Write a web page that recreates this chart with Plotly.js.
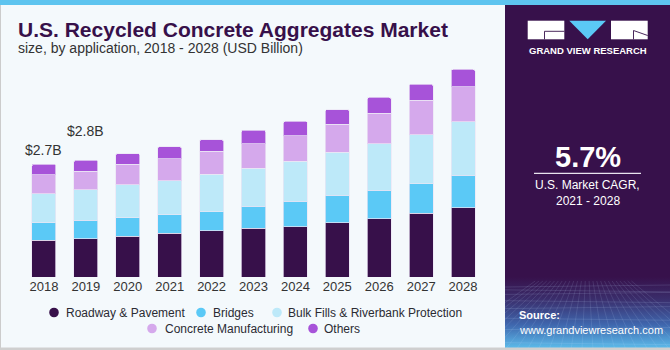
<!DOCTYPE html>
<html>
<head>
<meta charset="utf-8">
<script src="https://cdn.plot.ly/plotly-3.0.1.min.js"></script>
<style>html,body{margin:0;padding:0;background:#f4f9fc;}#chart{width:670px;height:350px;}</style>
</head>
<body>
<div id="chart"></div>
<script>
// ---- data (USD Billion) ----
const years = ['2018','2019','2020','2021','2022','2023','2024','2025','2026','2027','2028'];
const roadway  = [0.88,0.91,0.97,1.05,1.11,1.16,1.20,1.30,1.39,1.52,1.66];
const bridges  = [0.42,0.45,0.45,0.44,0.45,0.53,0.61,0.65,0.68,0.71,0.77];
const bulkFills = [0.69,0.72,0.78,0.81,0.89,0.91,0.95,1.03,1.12,1.17,1.28];
const concreteMfg = [0.45,0.45,0.50,0.52,0.55,0.59,0.61,0.67,0.72,0.82,0.84];
const others   = [0.26,0.26,0.25,0.29,0.28,0.32,0.35,0.35,0.38,0.39,0.41];
const seriesNames = ['Roadway & Pavement','Bridges','Bulk Fills & Riverbank Protection','Concrete Manufacturing','Others'];
const totalLabels = ['$2.7B','$2.8B'];
const cagrText = '5.7%';

// ---- styling ----
const colors = ['#37104a','#5bc9f6','#bde9f9','#d5a9ec','#a753d9'];
const series = [roadway, bridges, bulkFills, concreteMfg, others];
const L = 23, R = 484, T = 60, B = 277, W = 670, H = 350;
const xp = px => (px - L) / (R - L);
const yp = py => (B - py) / (B - T);
const PXPERB = 41.85;

const traces = series.map((vals, i) => ({
  type: 'bar', x: years, y: vals, name: seriesNames[i],
  marker: {color: colors[i], line: {color: 'rgba(235,230,245,0.7)', width: 1}},
  showlegend: false, hoverinfo: 'skip'
}));

const totals = years.map((_, j) => series.reduce((s, a) => s + a[j], 0));
const annotations = [];
const shiftPx = [14, 29];
totalLabels.forEach((t, j) => {
  annotations.push({x: j, y: totals[j], xref: 'x', yref: 'y', text: t, showarrow: false,
    yanchor: 'middle', yshift: shiftPx[j], font: {family: 'Liberation Sans, Arial', size: 14, color: '#333333'}});
});

// titles
annotations.push({xref: 'paper', yref: 'paper', x: xp(16), y: yp(29), xanchor: 'left', yanchor: 'middle', showarrow: false,
  text: 'U.S. Recycled Concrete Aggregates Market', font: {family: 'Liberation Sans, Arial', size: 21, weight: 700, color: '#37104a'}});
annotations.push({xref: 'paper', yref: 'paper', x: xp(16), y: yp(48), xanchor: 'left', yanchor: 'middle', showarrow: false,
  text: 'size, by application, 2018 - 2028 (USD Billion)', font: {family: 'Liberation Sans, Arial', size: 14, color: '#333333'}});

// manual legend
const legendPos = [
  {cx: 54, tx: 64, y: 312.5}, {cx: 201, tx: 211, y: 312.5}, {cx: 277, tx: 285.5, y: 312.5},
  {cx: 152, tx: 162.5, y: 328.5}, {cx: 313, tx: 322, y: 328.5}
];
const shapes = [];
seriesNames.forEach((n, i) => {
  const p = legendPos[i];
  shapes.push({type: 'circle', xref: 'paper', yref: 'paper', xsizemode: 'pixel', ysizemode: 'pixel',
    xanchor: xp(p.cx), yanchor: yp(p.y), x0: -4.8, x1: 4.8, y0: -4.8, y1: 4.8,
    fillcolor: colors[i], line: {width: 0}});
  annotations.push({xref: 'paper', yref: 'paper', x: xp(p.tx), y: yp(p.y), xanchor: 'left', yanchor: 'middle',
    showarrow: false, text: n, font: {family: 'Liberation Sans, Arial', size: 12, color: '#2b2b33'}});
});

// right panel texts
const white = '#ffffff';
annotations.push({xref: 'paper', yref: 'paper', x: xp(587.5), y: yp(157), xanchor: 'center', yanchor: 'middle', showarrow: false,
  text: cagrText, font: {family: 'Liberation Sans, Arial', size: 29, weight: 700, color: white}});
annotations.push({xref: 'paper', yref: 'paper', x: xp(587.5), y: yp(184.5), xanchor: 'center', yanchor: 'middle', showarrow: false,
  text: 'U.S. Market CAGR,', font: {family: 'Liberation Sans, Arial', size: 12, color: white}});
annotations.push({xref: 'paper', yref: 'paper', x: xp(587.5), y: yp(201), xanchor: 'center', yanchor: 'middle', showarrow: false,
  text: '2021 - 2028', font: {family: 'Liberation Sans, Arial', size: 12, color: white}});
annotations.push({xref: 'paper', yref: 'paper', x: xp(587.5), y: yp(50.5), xanchor: 'center', yanchor: 'middle', showarrow: false,
  text: 'GRAND VIEW RESEARCH', font: {family: 'Liberation Sans, Arial', size: 9.5, weight: 700, color: white}});
annotations.push({xref: 'paper', yref: 'paper', x: xp(516.5), y: yp(315), xanchor: 'left', yanchor: 'middle', showarrow: false,
  text: 'Source:', font: {family: 'Liberation Sans, Arial', size: 11, weight: 700, color: white}});
annotations.push({xref: 'paper', yref: 'paper', x: xp(516.5), y: yp(330), xanchor: 'left', yanchor: 'middle', showarrow: false,
  text: 'www.grandviewresearch.com', font: {family: 'Liberation Sans, Arial', size: 11, color: white}});

// white rule under CAGR
shapes.push({type: 'line', xref: 'paper', yref: 'paper', x0: xp(534), x1: xp(641), y0: yp(173.3), y1: yp(173.3),
  line: {color: '#e8e4ee', width: 1.3}});
// top stripe, borders
shapes.push({type: 'rect', xref: 'paper', yref: 'paper', x0: xp(0), x1: xp(W), y0: yp(0), y1: yp(5),
  fillcolor: '#5ec4ef', line: {width: 0}, layer: 'above'});
shapes.push({type: 'line', xref: 'paper', yref: 'paper', x0: xp(0.5), x1: xp(0.5), y0: yp(5), y1: yp(H),
  line: {color: '#cccccc', width: 1}});
shapes.push({type: 'rect', xref: 'paper', yref: 'paper', x0: xp(0), x1: xp(W), y0: yp(347.5), y1: yp(H),
  fillcolor: '#cfcfcf', line: {width: 0}, layer: 'above'});

// panel background + logo graphic (SVG image)
let grid = '';
for (let k = 0; k < 9; k++) {
  const y = 282 + k * k * 0.85 + k * 2;
  grid += `<line x1="0" y1="${y}" x2="165" y2="${y + (k % 2 ? 2 : -2)}" stroke="rgba(200,220,255,0.18)" stroke-width="0.8"/>`;
}
for (let k = -6; k < 20; k++) {
  const xb = k * 11;
  grid += `<line x1="${82 + (xb - 82) * 0.35}" y1="276" x2="${xb}" y2="345" stroke="rgba(200,220,255,0.16)" stroke-width="0.8"/>`;
}
const svg = `<svg xmlns="http://www.w3.org/2000/svg" width="165" height="345" viewBox="0 0 165 345">
<defs><linearGradient id="g" x1="0" y1="0" x2="0" y2="1">
<stop offset="0" stop-color="#37114b"/><stop offset="0.3" stop-color="#3a2d6b"/>
<stop offset="0.65" stop-color="#3f66ad"/><stop offset="1" stop-color="#5ec2ef"/></linearGradient></defs>
<rect x="0" y="0" width="165" height="345" fill="#37114b"/>
<rect x="0" y="272" width="165" height="73" fill="url(#g)"/>
${grid}
<rect x="22.7" y="15.7" width="36.6" height="18.6" fill="#ffffff"/>
<polyline points="39.5,34.3 39.5,26.3 59.3,26.3" fill="none" stroke="#37114b" stroke-width="0.9"/>
<polygon points="64.3,15.7 101,15.7 82.7,34.3" fill="#5bc9f6"/>
<rect x="106" y="15.7" width="36.7" height="18.6" fill="#ffffff"/>
<polyline points="128.5,34.3 128.5,25.5 142.7,30.5" fill="none" stroke="#37114b" stroke-width="0.9"/>
</svg>`;
const images = [{source: 'data:image/svg+xml;charset=utf-8,' + encodeURIComponent(svg),
  xref: 'paper', yref: 'paper', x: xp(505), y: yp(5), sizex: 165 / (R - L), sizey: 345 / (B - T),
  xanchor: 'left', yanchor: 'top', sizing: 'stretch', layer: 'below'}];

const layout = {
  width: W, height: H,
  margin: {l: L, r: W - R, t: T, b: H - B, pad: 0},
  paper_bgcolor: '#f4f9fc', plot_bgcolor: 'rgba(0,0,0,0)',
  barmode: 'stack', bargap: 0.427, barcornerradius: 2,
  showlegend: false,
  xaxis: {type: 'category', range: [-0.5, years.length - 0.5], showgrid: false, zeroline: false, showline: false, ticks: '',
    tickfont: {family: 'Liberation Sans, Arial', size: 13, color: '#333333'}, fixedrange: true},
  yaxis: {visible: false, range: [0, (B - T) / PXPERB], fixedrange: true},
  annotations, shapes, images, hovermode: false
};
Plotly.newPlot('chart', traces, layout, {displayModeBar: false, staticPlot: true});
</script>
</body>
</html>
